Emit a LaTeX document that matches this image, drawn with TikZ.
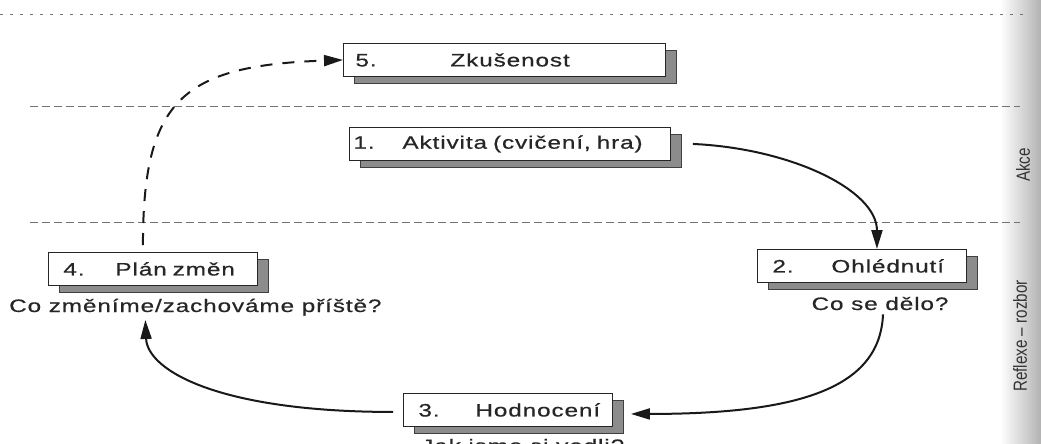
\documentclass[tikz,border=0pt]{standalone}
\usepackage{fontspec}
\setmainfont{Liberation Sans}
\newfontfamily\boxfont{Liberation Sans}[FakeStretch=1.35,LetterSpace=5,FakeBold=0.6]
\newfontfamily\sidefont{Liberation Sans}[FakeStretch=0.8]
\usetikzlibrary{arrows.meta,shadows}

\tikzset{
  stepbox/.style={draw=black!85, fill=white, line width=0.9pt, anchor=north west,
    minimum height=33pt, inner xsep=0pt, inner ysep=0pt, align=left,
    font=\boxfont\fontsize{18}{20}\selectfont, text=black!85,
    drop shadow={shadow xshift=11pt, shadow yshift=-7pt, fill=black!45,
      draw=black!75, opacity=1}},
  question/.style={font=\boxfont\fontsize{18}{20}\selectfont, text=black!85,
    inner sep=0pt, anchor=base west},
  sidelabel/.style={rotate=90, font=\sidefont\fontsize{19}{19}\selectfont, text=black!80},
  cycle/.style={line width=2pt, black!90, -{Triangle[length=19pt,width=11pt]}},
  zone/.style={black!55, dash pattern=on 8pt off 4pt, line width=0.8pt},
}

\begin{document}
\begin{tikzpicture}[x=1pt,y=-1pt]
\useasboundingbox (0,0) rectangle (1041,444);
\clip (0,0) rectangle (1041,444);
\shade[left color=white, right color=black!30] (1000,0) rectangle (1041,444);

% zones
\draw[black!55, dash pattern=on 3pt off 7pt, line width=1pt] (0,15) -- (1025,15);
\draw[zone] (30,106) -- (1020,106);
\draw[zone] (30,222) -- (1020,222);

% steps
\node[stepbox, text width=322pt] (zkusenost) at (343,43)
  {\hspace*{12pt}\makebox[95pt][l]{5.}Zkušenost};
\node[stepbox, text width=321pt] (aktivita) at (349,127)
  {\hspace*{4pt}\makebox[49pt][l]{1.}Aktivita (cvičení, hra)};
\node[stepbox, text width=209pt] (ohlednuti) at (757,249)
  {\hspace*{15pt}\makebox[59pt][l]{2.}Ohlédnutí};
\node[stepbox, text width=209pt] (hodnoceni) at (403,393)
  {\hspace*{15pt}\makebox[57pt][l]{3.}Hodnocení};
\node[stepbox, text width=209pt] (plan) at (48,252)
  {\hspace*{15pt}\makebox[52pt][l]{4.}Plán změn};

% questions
\node[question] (zmenime) at (9,312) {Co změníme/zachováme příště?};
\node[question, anchor=base] (delo) at (880,310) {Co se dělo?};
\node[question] (vedli) at (421,452) {Jak jsme si vedli?};

% side labels
\node[sidelabel] (akce) at (1023,165) {Akce};
\node[sidelabel] (reflexe) at (1020,336) {Reflexe – rozbor};

% cycle
\draw[cycle] ([xshift=22pt]aktivita.east)
  .. controls +(98,4.5) and +(0,-59) .. ([xshift=15pt]ohlednuti.north);
\draw[cycle] ([xshift=3pt,yshift=-4pt]delo.south)
  .. controls +(-3,73) and +(170,0) .. ([shift={(18pt,-4pt)}]hodnoceni.east);
\draw[cycle] ([shift={(-10pt,-2pt)}]hodnoceni.west)
  .. controls +(-173,0) and +(2,51) .. ([shift={(-50pt,-4pt)}]zmenime.south);
\draw[cycle, dash pattern=on 12pt off 10pt] ([shift={(-10pt,7pt)}]plan.north)
  .. controls +(0,-145) and +(-161,5.5) .. (zkusenost.west);
\end{tikzpicture}
\end{document}
